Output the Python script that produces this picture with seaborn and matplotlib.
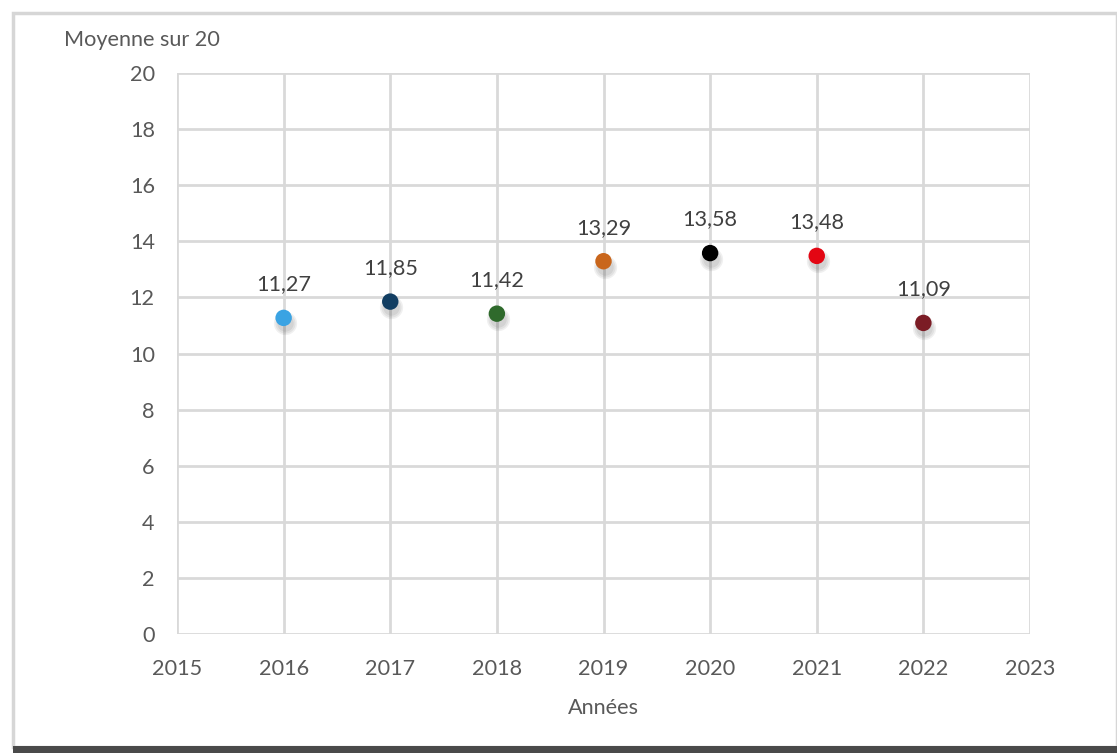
import matplotlib
matplotlib.use("Agg")
import matplotlib.pyplot as plt
import matplotlib.transforms as mtransforms
from matplotlib.patches import Rectangle
import seaborn as sns
import pandas as pd

# Average mark per year
annees = [2016, 2017, 2018, 2019, 2020, 2021, 2022]
moyennes = [11.27, 11.85, 11.42, 13.29, 13.58, 13.48, 11.09]
couleurs = ["#3AA3E3", "#123E62", "#2F6A2C", "#C9661C", "#000000", "#E30613", "#7B1C25"]
x_ticks = [2015, 2016, 2017, 2018, 2019, 2020, 2021, 2022, 2023]
y_ticks = [0, 2, 4, 6, 8, 10, 12, 14, 16, 18, 20]

df = pd.DataFrame({"Année": annees, "Moyenne": moyennes, "Couleur": couleurs})

sns.set_theme(style="white")
plt.rcParams["font.family"] = ["Lato", "DejaVu Sans"]

text_col = "#595959"
grid_col = "#D9D9D9"
fs = 15.6

fig = plt.figure(figsize=(11.17, 7.53), dpi=100)
fig.patch.set_facecolor("white")

# Card frame with a light border and a darker bottom shadow
fig.add_artist(Rectangle((13 / 1117, 1 - 747 / 753), 1 - 13 / 1117, 734 / 753,
                         transform=fig.transFigure, facecolor="white",
                         edgecolor="#D6D6D6", linewidth=2.5, zorder=0))
fig.add_artist(Rectangle((13 / 1117, 0), 1 - 13 / 1117, 7 / 753,
                         transform=fig.transFigure, facecolor="#4A4A4A",
                         edgecolor="none", zorder=1))

ax = fig.add_axes([177 / 1117, 1 - 634 / 753, (1030 - 177) / 1117, (634 - 73) / 753])
ax.set_facecolor("none")

# Soft drop shadow under each marker
shadow = mtransforms.offset_copy(ax.transData, fig=fig, x=0.8, y=-4.0, units="points")
for r in range(3):
    ax.scatter(df["Année"], df["Moyenne"], s=140 + 70 * r, color="#000000",
               alpha=0.06, linewidths=0, transform=shadow, zorder=3)

sns.scatterplot(data=df, x="Année", y="Moyenne", hue="Année",
                palette=dict(zip(annees, couleurs)), s=140, linewidth=0,
                legend=False, ax=ax, zorder=4)

for a, m in zip(annees, moyennes):
    ax.annotate(f"{m:.2f}".replace(".", ","), (a, m), xytext=(0, 17),
                textcoords="offset points", ha="center", va="bottom",
                fontsize=fs, color="#404040", zorder=5)

ax.set_xlim(2015, 2023)
ax.set_ylim(0, 20)
ax.set_xticks(x_ticks)
ax.set_yticks(y_ticks)
ax.set_xticklabels([str(t) for t in x_ticks])
ax.set_yticklabels([str(t) for t in y_ticks])
ax.grid(True, color=grid_col, linewidth=2)
ax.set_axisbelow(True)
for s in ax.spines.values():
    s.set_visible(False)
ax.tick_params(axis="both", length=0, labelsize=fs, labelcolor=text_col)
ax.tick_params(axis="x", pad=18)
ax.tick_params(axis="y", pad=16)

ax.set_xlabel("Années", fontsize=fs, color=text_col, labelpad=14)
ax.set_ylabel("")
fig.text(64 / 1117, 1 - 40 / 753, "Moyenne sur 20", fontsize=fs, color=text_col,
         ha="left", va="center")

fig.savefig("out.png", dpi=100, facecolor="white")
